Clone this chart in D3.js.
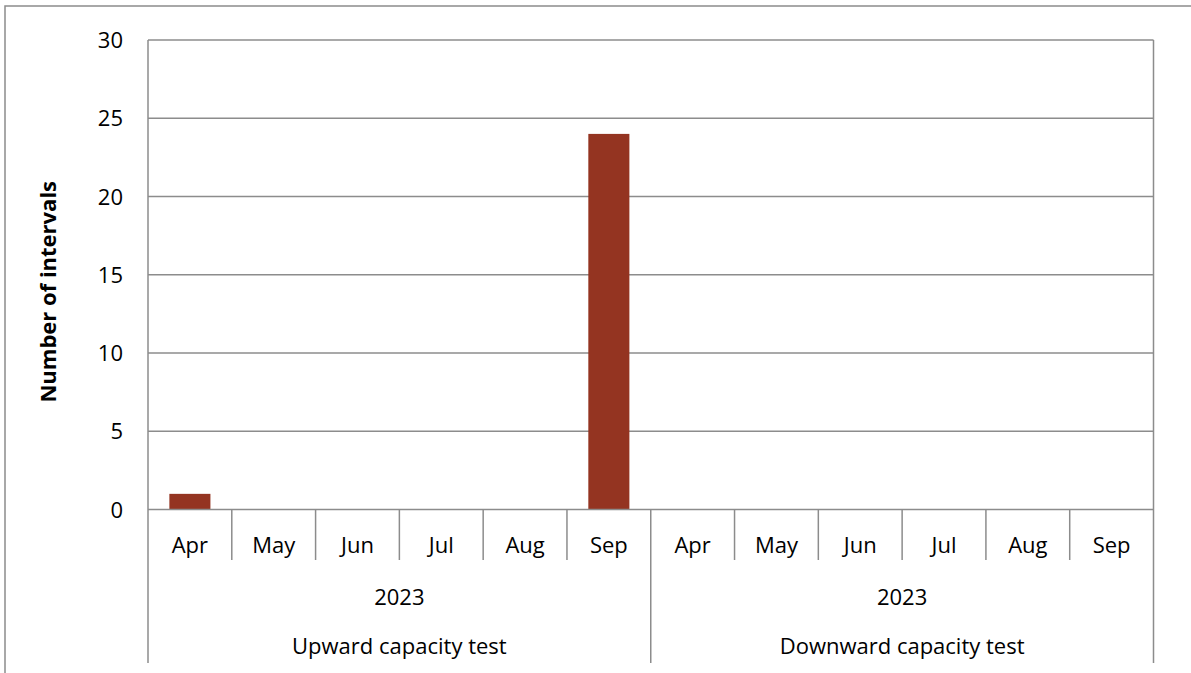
<!DOCTYPE html>
<html>
<head>
<meta charset="utf-8">
<script src="https://cdn.jsdelivr.net/npm/d3@7"></script>
<style>
  body { margin: 0; background: #fff; }
  svg text { font-family: "Open Sans", sans-serif; fill: #000; }
</style>
</head>
<body>
<svg id="chart" width="1191" height="673"></svg>
<script>
const months = ["Apr", "May", "Jun", "Jul", "Aug", "Sep"];
const groups = ["Upward capacity test", "Downward capacity test"];
const years = ["2023", "2023"];
const upwardValues = [1, 0, 0, 0, 0, 24];
const downwardValues = [0, 0, 0, 0, 0, 0];
const yTicks = [0, 5, 10, 15, 20, 25, 30];

const gridColor = "#8c8c8c";
const barColor = "#943421";
const labelSize = "22px";

const svg = d3.select("#chart");

// outer chart border (runs off the right and bottom edges)
svg.append("rect")
  .attr("x", 5).attr("y", 6)
  .attr("width", 1200).attr("height", 700)
  .attr("fill", "none")
  .attr("stroke", gridColor)
  .attr("stroke-width", 1.5);

const plotLeft = 148, plotRight = 1153.5, plotTop = 40, plotBottom = 509.5;

// flat category list: group index + month
const cats = [];
groups.forEach((g, gi) => months.forEach(m => cats.push(gi + "-" + m)));
const allValues = upwardValues.concat(downwardValues);

const x = d3.scaleBand().domain(cats).range([plotLeft, plotRight]).paddingInner(0).paddingOuter(0);
const y = d3.scaleLinear().domain([0, 30]).range([plotBottom, plotTop]);

// gridlines
svg.append("g").selectAll("line")
  .data(yTicks.filter(d => d > 0))
  .join("line")
  .attr("x1", plotLeft).attr("x2", plotRight)
  .attr("y1", d => y(d)).attr("y2", d => y(d))
  .attr("stroke", gridColor).attr("stroke-width", 1.5);

// right edge of plot
svg.append("line")
  .attr("x1", plotRight).attr("x2", plotRight)
  .attr("y1", plotTop).attr("y2", 663)
  .attr("stroke", gridColor).attr("stroke-width", 1.5);

// y axis
const yAxis = svg.append("g")
  .attr("transform", `translate(${plotLeft},0)`)
  .call(d3.axisLeft(y).tickValues(yTicks).tickSize(0).tickPadding(25));
yAxis.select(".domain").remove();
yAxis.selectAll("text").style("font-size", labelSize).attr("dy", "0.35em");

svg.append("line")
  .attr("x1", plotLeft).attr("x2", plotLeft)
  .attr("y1", plotTop).attr("y2", 663)
  .attr("stroke", gridColor).attr("stroke-width", 1.5);

// bars
const bw = x.bandwidth() * 0.49;
svg.append("g").selectAll("rect")
  .data(cats.map((c, i) => ({ c, v: allValues[i] })).filter(d => d.v > 0))
  .join("rect")
  .attr("x", d => x(d.c) + (x.bandwidth() - bw) / 2)
  .attr("width", bw)
  .attr("y", d => y(d.v))
  .attr("height", d => y(0) - y(d.v))
  .attr("fill", barColor);

// zero axis line
svg.append("line")
  .attr("x1", plotLeft).attr("x2", plotRight)
  .attr("y1", y(0)).attr("y2", y(0))
  .attr("stroke", gridColor).attr("stroke-width", 1.5);

// month separators and labels
const xg = svg.append("g");
cats.forEach((c, i) => {
  if (i > 0) {
    const isGroupEdge = i % months.length === 0;
    xg.append("line")
      .attr("x1", x(c)).attr("x2", x(c))
      .attr("y1", y(0)).attr("y2", isGroupEdge ? 663 : 560)
      .attr("stroke", gridColor).attr("stroke-width", 1.5);
  }
  xg.append("text")
    .attr("x", x(c) + x.bandwidth() / 2)
    .attr("y", 545)
    .attr("dy", "0.35em")
    .attr("text-anchor", "middle")
    .style("font-size", labelSize)
    .text(c.split("-")[1]);
});

// year and group labels
const groupWidth = x.bandwidth() * months.length;
groups.forEach((g, gi) => {
  const cx = plotLeft + groupWidth * gi + groupWidth / 2;
  xg.append("text")
    .attr("x", cx).attr("y", 597).attr("dy", "0.35em")
    .attr("text-anchor", "middle").style("font-size", labelSize)
    .text(years[gi]);
  xg.append("text")
    .attr("x", cx).attr("y", 646).attr("dy", "0.35em")
    .attr("text-anchor", "middle").style("font-size", labelSize)
    .text(g);
});

// y axis title
svg.append("text")
  .attr("transform", `translate(48,${(plotTop + plotBottom) / 2 + 17}) rotate(-90)`)
  .attr("text-anchor", "middle")
  .attr("dy", "0.35em")
  .style("font-size", "22px")
  .style("font-weight", "bold")
  .text("Number of intervals");
</script>
</body>
</html>
